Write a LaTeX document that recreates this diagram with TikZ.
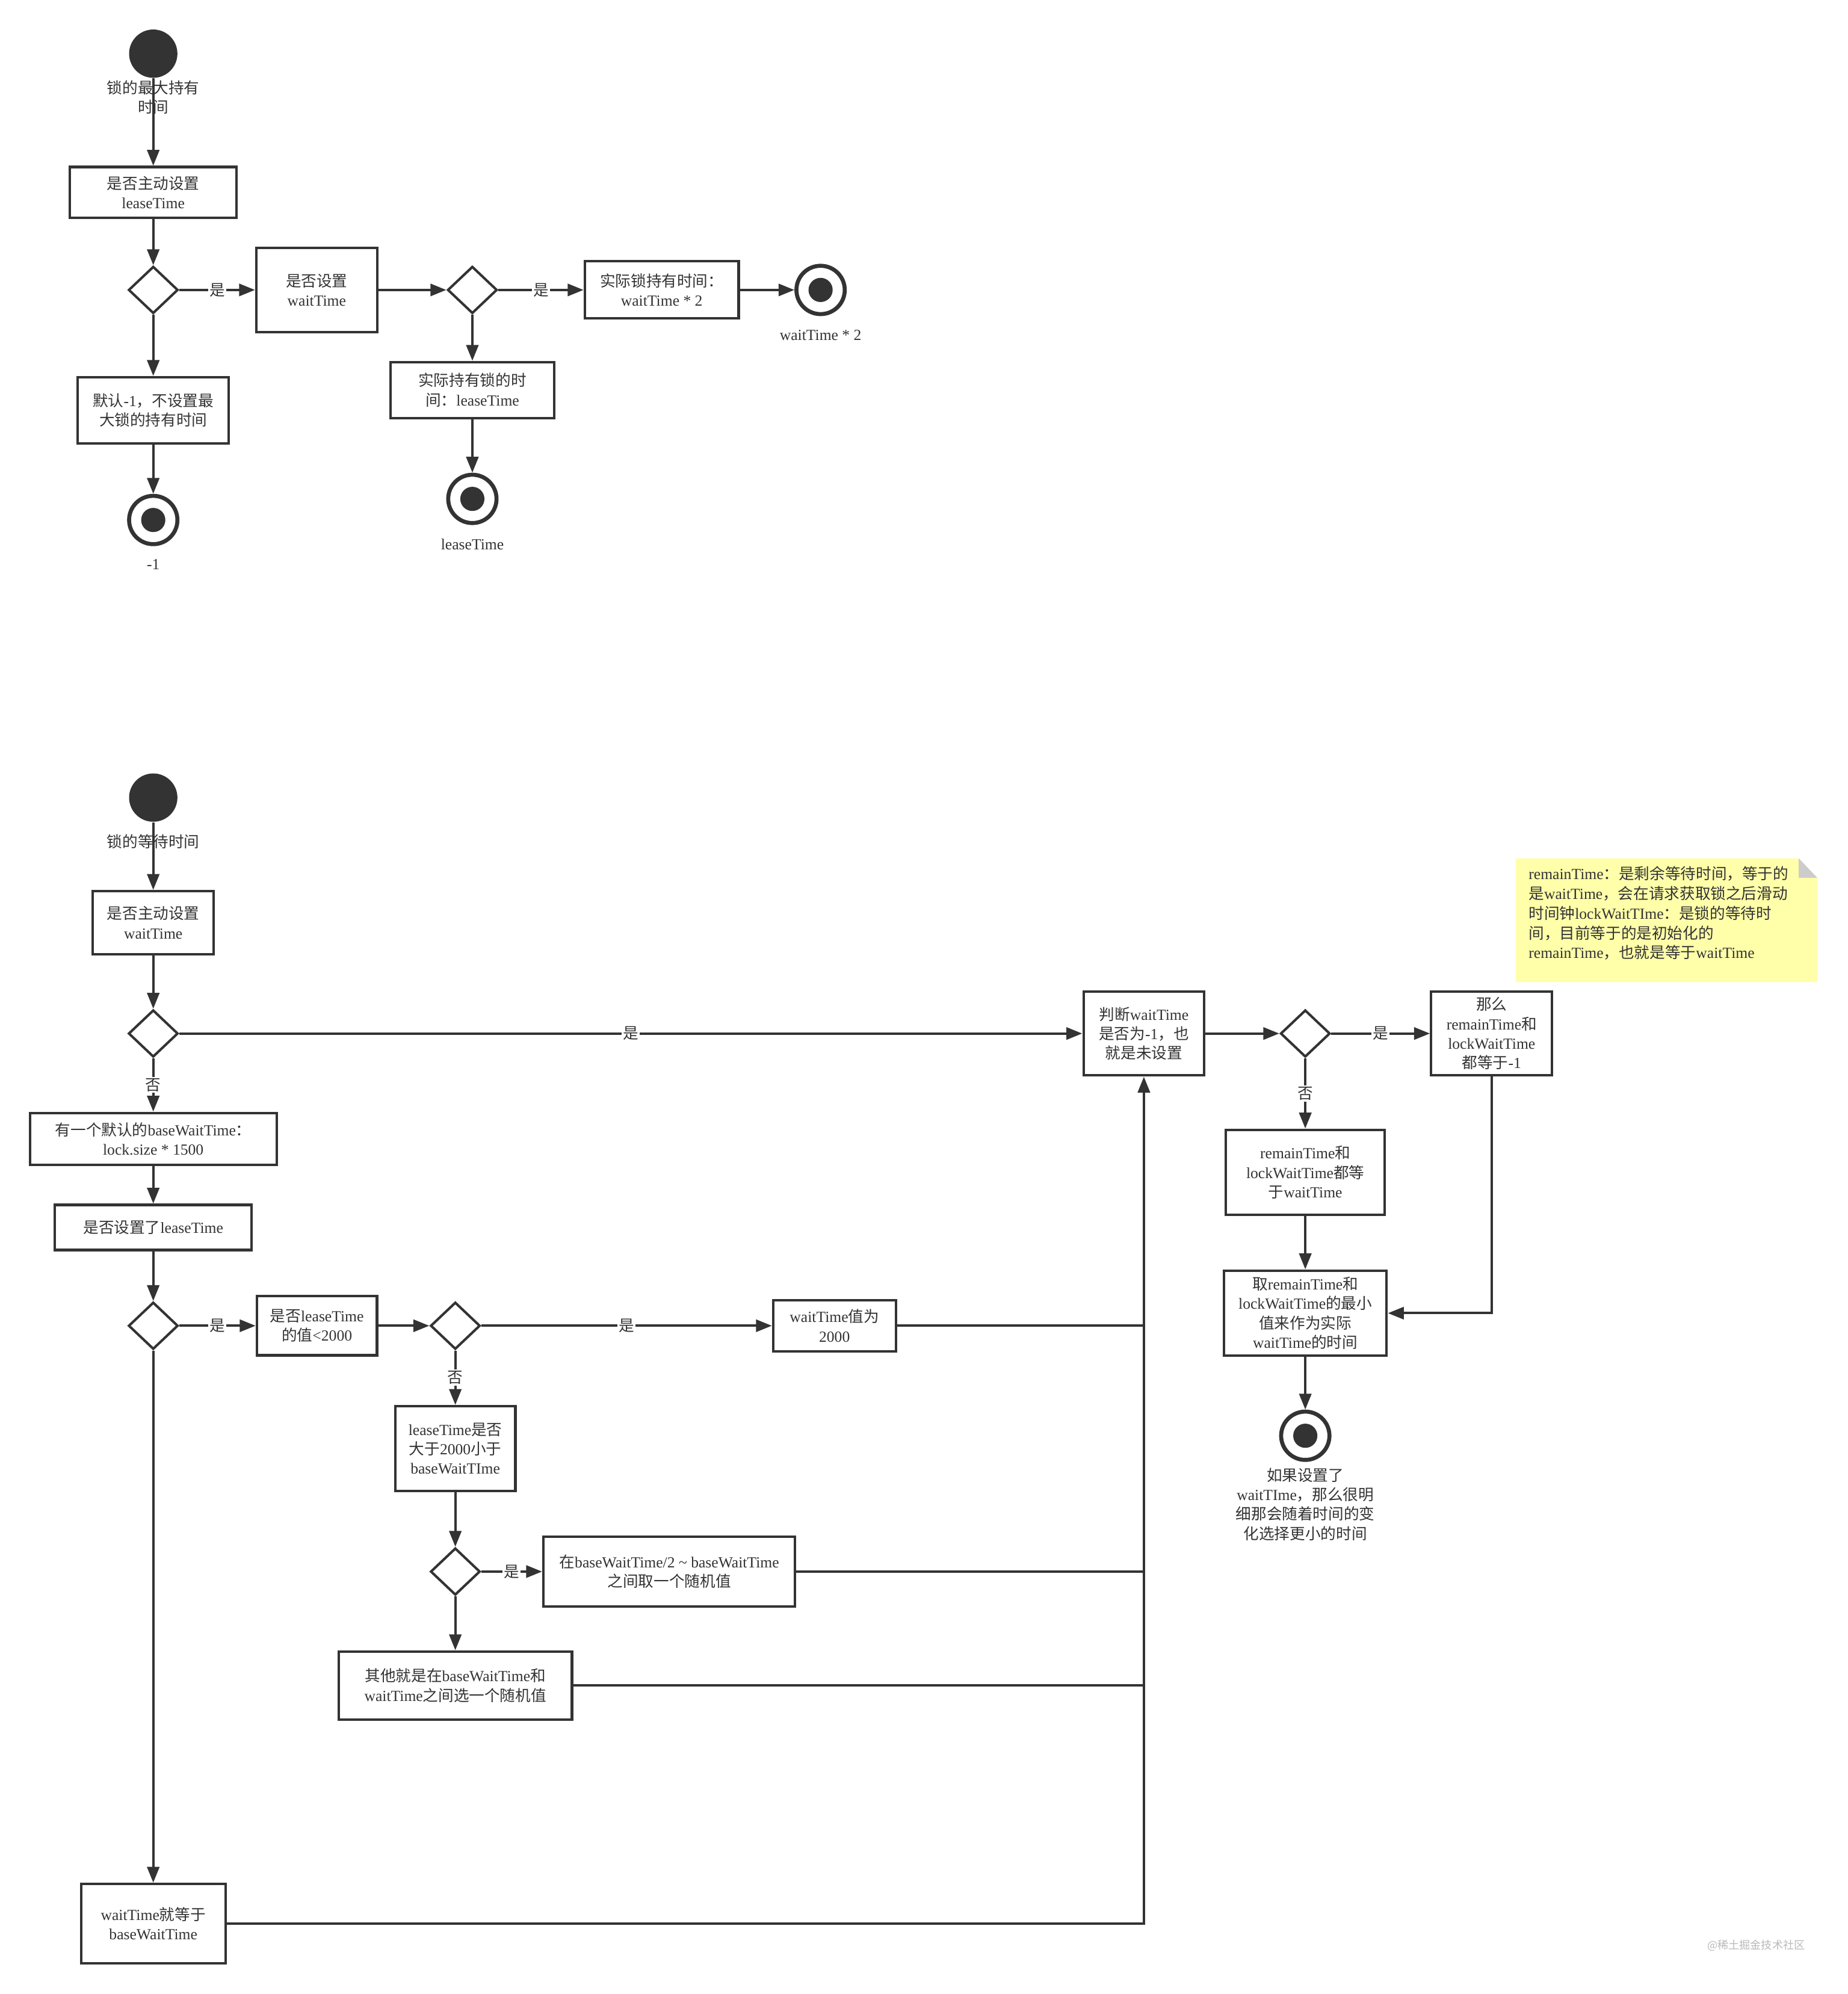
\documentclass[tikz,border=0pt]{standalone}
\usepackage{fontspec}
\setmainfont{Liberation Serif}
\newfontfamily\cjk{Noto Sans CJK SC}
\usepackage{xcolor}
\usepackage{tikz}
\usetikzlibrary{arrows.meta, positioning, shapes.geometric}
\definecolor{ink}{HTML}{333333}
\definecolor{notefill}{HTML}{FFFFAA}
\definecolor{notefold}{HTML}{CCCCCC}
\newcommand{\zh}[1]{{\cjk #1}}

\begin{document}
\begin{tikzpicture}[
  x=0.02cm, y=-0.02cm,
  every node/.style={font=\fontsize{6.9}{8.7}\selectfont, text=ink},
  box/.style={rectangle, draw=ink, line width=1.1pt, align=center, inner sep=1pt},
  decision/.style={diamond, draw=ink, line width=1.1pt, minimum width=0.78cm,
                   minimum height=0.74cm, inner sep=0pt},
  startdot/.style={circle, fill=ink, minimum size=0.76cm, inner sep=0pt},
  stopdot/.style={circle, draw=ink, line width=1.8pt, minimum size=0.76cm, inner sep=0pt,
                  path picture={\fill[ink] (path picture bounding box.center) circle (0.19cm);}},
  caption/.style={align=center, inner sep=0pt},
  yes/.style={fill=white, inner sep=0.6pt},
  arrow/.style={-{Triangle[length=2.5mm, width=1.9mm]}, draw=ink, line width=1.1pt},
  link/.style={draw=ink, line width=1.1pt},
]
\useasboundingbox (0,0) rectangle (1453,1568);

\node[startdot] (holdstart) at (120.5,42.2) {};
\node[caption] (holdstartlbl) at (120.5,76.6) {\zh{锁的最大持有}\\\zh{时间}};
\node[box, minimum width=2.62cm, minimum height=0.80cm] (leaseset) at (120.5,151.3)
      {\zh{是否主动设置}\\leaseTime};
\node[decision] (leasecheck) at (120.5,228) {};
\node[box, minimum width=1.90cm, minimum height=1.33cm] (waitset) at (249,228)
      {\zh{是否设置}\\waitTime};
\node[box, minimum width=2.38cm, minimum height=1.04cm] (defaultlease) at (120.5,322.6)
      {\zh{默认}-1\zh{，不设置最}\\\zh{大锁的持有时间}};
\node[stopdot] (leaseneg) at (120.5,408.9) {};
\node[caption] (leaseneglbl) at (120.5,443.6) {-1};
\node[decision] (waitcheck) at (371.4,228) {};
\node[box, minimum width=2.42cm, minimum height=0.90cm] (doublewait) at (520.3,228)
      {\zh{实际锁持有时间：}\\waitTime * 2};
\node[stopdot] (doubleend) at (645.2,228) {};
\node[caption] (doubleendlbl) at (645.2,263.4) {waitTime * 2};
\node[box, minimum width=2.58cm, minimum height=0.88cm] (reallease) at (371.4,306.7)
      {\zh{实际持有锁的时}\\\zh{间：}leaseTime};
\node[stopdot] (leaseend) at (371.4,392.3) {};
\node[caption] (leaseendlbl) at (371.4,427.9) {leaseTime};

\draw[arrow] (holdstart) -- (leaseset);
\draw[arrow] (leaseset) -- (leasecheck);
\draw[arrow] (leasecheck) -- node[yes] (yesa) {\zh{是}} (waitset);
\draw[arrow] (leasecheck) -- (defaultlease);
\draw[arrow] (defaultlease) -- (leaseneg);
\draw[arrow] (waitset) -- (waitcheck);
\draw[arrow] (waitcheck) -- node[yes] (yesb) {\zh{是}} (doublewait);
\draw[arrow] (doublewait) -- (doubleend);
\draw[arrow] (waitcheck) -- (reallease);
\draw[arrow] (reallease) -- (leaseend);

\node[startdot] (waitstart) at (120.5,627.2) {};
\node[caption] (waitstartlbl) at (120.5,662) {\zh{锁的等待时间}};
\node[box, minimum width=1.90cm, minimum height=0.99cm] (waitmanual) at (120.5,725.5)
      {\zh{是否主动设置}\\waitTime};
\node[decision] (manualcheck) at (120.5,812.7) {};
\node[box, minimum width=1.90cm, minimum height=1.32cm] (judge) at (899.4,812.7)
      {\zh{判断}waitTime\\\zh{是否为}-1\zh{，也}\\\zh{就是未设置}};
\node[box, minimum width=3.88cm, minimum height=0.82cm] (basedefault) at (120.5,895.6)
      {\zh{有一个默认的}baseWaitTime\zh{：}\\lock.size * 1500};
\node[box, minimum width=3.10cm, minimum height=0.71cm] (leasegiven) at (120.5,965.2)
      {\zh{是否设置了}leaseTime};
\node[decision] (givencheck) at (120.5,1042.5) {};
\node[box, minimum width=1.89cm, minimum height=0.93cm] (leasesmall) at (249.2,1042.5)
      {\zh{是否}leaseTime\\\zh{的值}<2000};
\node[decision] (smallcheck) at (358,1042.5) {};
\node[box, minimum width=1.93cm, minimum height=0.81cm] (waitfixed) at (656.1,1042.5)
      {waitTime\zh{值为}\\2000};
\node[box, minimum width=1.89cm, minimum height=1.33cm] (leasemid) at (358,1139)
      {leaseTime\zh{是否}\\\zh{大于}2000\zh{小于}\\baseWaitTIme};
\node[decision] (midcheck) at (358,1235.8) {};
\node[box, minimum width=3.96cm, minimum height=1.10cm] (waithalf) at (526.2,1235.8)
      {\zh{在}baseWaitTime/2 \textasciitilde{} baseWaitTime\\\zh{之间取一个随机值}};
\node[box, minimum width=3.67cm, minimum height=1.07cm] (waitrange) at (358,1325.4)
      {\zh{其他就是在}baseWaitTime\zh{和}\\waitTime\zh{之间选一个随机值}};
\node[box, minimum width=2.27cm, minimum height=1.25cm] (waitbase) at (120.5,1512.7)
      {waitTime\zh{就等于}\\baseWaitTime};

\node[decision] (judgecheck) at (1026.3,812.7) {};
\node[box, minimum width=1.90cm, minimum height=1.32cm] (bothneg) at (1172.8,812.7)
      {\zh{那么}\\remainTime\zh{和}\\lockWaitTime\\\zh{都等于}-1};
\node[box, minimum width=2.50cm, minimum height=1.34cm] (bothwait) at (1026.3,921.9)
      {remainTime\zh{和}\\lockWaitTime\zh{都等}\\\zh{于}waitTime};
\node[box, minimum width=2.56cm, minimum height=1.34cm] (pickmin) at (1026.3,1032.6)
      {\zh{取}remainTime\zh{和}\\lockWaitTime\zh{的最小}\\\zh{值来作为实际}\\waitTime\zh{的时间}};
\node[stopdot] (waitend) at (1026.3,1129) {};
\node[caption] (waitendlbl) at (1026.3,1182.9)
      {\zh{如果设置了}\\waitTIme\zh{，那么很明}\\\zh{细那会随着时间的变}\\\zh{化选择更小的时间}};

\fill[notefill] (1191.8,675) -- (1414.3,675) -- (1428.9,690.3) -- (1428.9,772.2) -- (1191.8,772.2) -- cycle;
\fill[notefold] (1414.3,675) -- (1414.3,690.3) -- (1428.9,690.3) -- cycle;
\node[anchor=north west, align=left, inner sep=0pt, font=\fontsize{6.9}{8.85}\selectfont]
      (remainnote) at (1201.6,680.8)
      {remainTime\zh{：是剩余等待时间，等于的}\\
       \zh{是}waitTime\zh{，会在请求获取锁之后滑动}\\
       \zh{时间钟}lockWaitTIme\zh{：是锁的等待时}\\
       \zh{间，目前等于的是初始化的}\\
       remainTime\zh{，也就是等于}waitTime};

\node[text=gray!55, font=\cjk\fontsize{4.9}{6}\selectfont] (mark) at (1380.8,1529.8) {@稀土掘金技术社区};

\coordinate (mergefixed) at (waitfixed -| judge);
\coordinate (mergehalf) at (waithalf -| judge);
\coordinate (mergerange) at (waitrange -| judge);

\draw[arrow] (waitstart) -- (waitmanual);
\draw[arrow] (waitmanual) -- (manualcheck);
\draw[arrow] (manualcheck) -- node[yes] (yesc) {\zh{是}} (judge);
\draw[arrow] (manualcheck) -- node[yes] (noa) {\zh{否}} (basedefault);
\draw[arrow] (basedefault) -- (leasegiven);
\draw[arrow] (leasegiven) -- (givencheck);
\draw[arrow] (givencheck) -- node[yes] (yesd) {\zh{是}} (leasesmall);
\draw[arrow] (givencheck) -- (waitbase);
\draw[arrow] (leasesmall) -- (smallcheck);
\draw[arrow] (smallcheck) -- node[yes] (yese) {\zh{是}} (waitfixed);
\draw[arrow] (smallcheck) -- node[yes] (nob) {\zh{否}} (leasemid);
\draw[arrow] (leasemid) -- (midcheck);
\draw[arrow] (midcheck) -- node[yes] (yesf) {\zh{是}} (waithalf);
\draw[arrow] (midcheck) -- (waitrange);
\draw[link] (waitfixed) -- (mergefixed);
\draw[link] (waithalf) -- (mergehalf);
\draw[link] (waitrange) -- (mergerange);
\draw[arrow] (waitbase) -| (judge);
\draw[arrow] (judge) -- (judgecheck);
\draw[arrow] (judgecheck) -- node[yes] (yesg) {\zh{是}} (bothneg);
\draw[arrow] (judgecheck) -- node[yes] (noc) {\zh{否}} (bothwait);
\draw[arrow] (bothwait) -- (pickmin);
\draw[arrow] (bothneg) |- (pickmin);
\draw[arrow] (pickmin) -- (waitend);
\end{tikzpicture}
\end{document}
